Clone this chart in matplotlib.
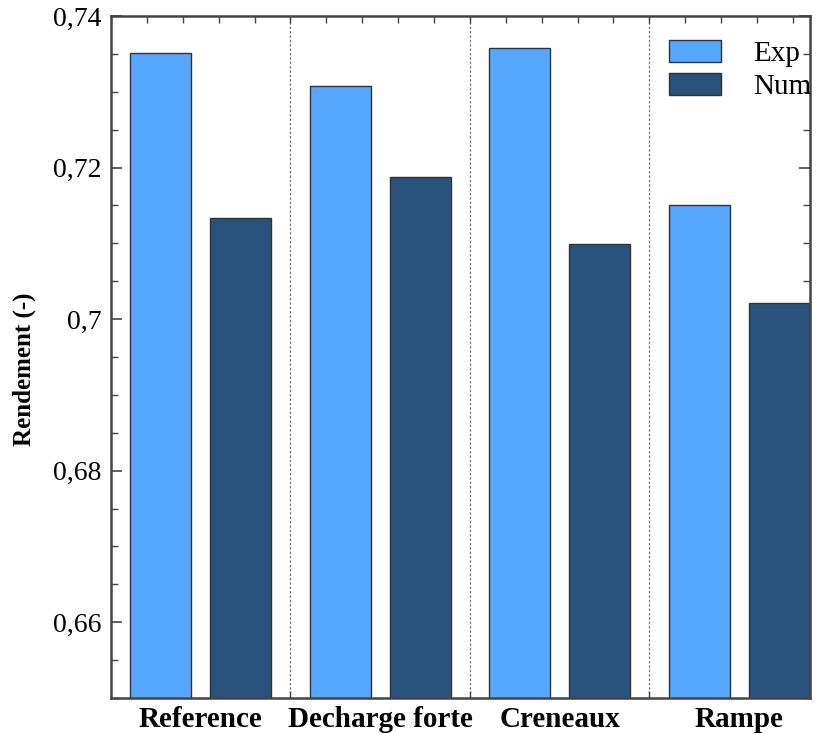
import matplotlib
matplotlib.use("Agg")
import matplotlib.pyplot as plt
import numpy as np
from matplotlib.ticker import MultipleLocator, FixedLocator

categories = ["Reference", "Decharge forte", "Creneaux", "Rampe"]
exp_values = [0.7351, 0.7308, 0.7358, 0.7150]
num_values = [0.7134, 0.7188, 0.7099, 0.7021]
series_names = ["Exp", "Num"]
ytick_values = [0.66, 0.68, 0.70, 0.72, 0.74]
ytick_labels = ["0,66", "0,68", "0,7", "0,72", "0,74"]

plt.rcParams['font.family'] = ['Liberation Serif', 'DejaVu Serif']

fig = plt.figure(figsize=(8.23, 7.34), dpi=100)
ax = fig.add_axes([111/823, 36/734, 699/823, 682/734])

x = np.arange(len(categories))
w = 0.34
off = 0.223
ax.bar(x - off, exp_values, width=w, color="#55A7FF", edgecolor="#333333", linewidth=1.0, label=series_names[0], zorder=2)
ax.bar(x + off, num_values, width=w, color="#29527D", edgecolor="#333333", linewidth=1.0, label=series_names[1], zorder=2)

for s in [0.5, 1.5, 2.5]:
    ax.axvline(s, color="#777777", linestyle=(0, (2, 1.5)), linewidth=0.9, zorder=1)

ax.set_xlim(-0.5, 3.395)
ax.set_ylim(0.65, 0.74)

ax.set_yticks(ytick_values)
ax.set_yticklabels(ytick_labels, fontsize=20)
ax.yaxis.set_minor_locator(MultipleLocator(0.005))

ax.set_xticks(x)
ax.set_xticklabels(categories, fontsize=21, fontweight="bold")
ax.xaxis.set_minor_locator(FixedLocator(np.arange(-0.3, 3.4, 0.2)))

ax.tick_params(axis='x', which='major', length=0, pad=6)
ax.tick_params(axis='y', which='major', direction='in', length=8, width=1.2, right=True, pad=7, color="#444444")
ax.tick_params(axis='both', which='minor', direction='in', length=5, width=1.0, top=True, right=True, color="#444444")

for sp in ax.spines.values():
    sp.set_linewidth(1.8)
    sp.set_color("#444444")

ax.set_ylabel("Rendement (-)", fontsize=18, fontweight="bold")
ax.yaxis.set_label_coords(-0.108, 0.482)

leg = ax.legend(loc="upper left", bbox_to_anchor=(0.798, 0.965), frameon=False, fontsize=21,
                handlelength=1.8, handleheight=0.8, handletextpad=1.1, borderpad=0, borderaxespad=0,
                labelspacing=0.2)

fig.savefig("out.png", dpi=100)
